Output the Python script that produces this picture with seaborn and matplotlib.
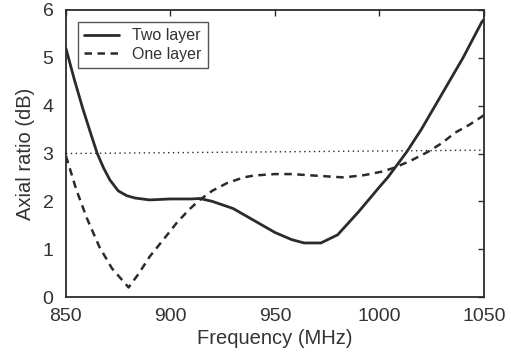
import matplotlib
matplotlib.use("Agg")
import matplotlib.pyplot as plt
import seaborn as sns
import pandas as pd

sns.set_theme(style="white")
plt.rcParams['font.family'] = ['Liberation Sans', 'DejaVu Sans']

two_freq = [850, 854, 858, 862, 865, 868, 871, 875, 879, 883, 890, 900, 910, 914, 920, 930, 940, 950, 958, 964, 972, 980, 990, 1000, 1004, 1013, 1020, 1030, 1040, 1049, 1050]
two_ar   = [5.2, 4.55, 3.95, 3.4, 3.0, 2.7, 2.45, 2.22, 2.12, 2.07, 2.03, 2.05, 2.05, 2.06, 2.0, 1.85, 1.6, 1.35, 1.2, 1.13, 1.13, 1.3, 1.78, 2.3, 2.5, 3.03, 3.5, 4.25, 5.0, 5.75, 5.8]

one_freq = [850, 855, 860, 866, 872, 880, 885, 890, 897, 903, 909, 914, 920, 927, 935, 940, 950, 958, 965, 972, 983, 993, 1001, 1007, 1015, 1023, 1030, 1036, 1043, 1050]
one_ar   = [2.95, 2.24, 1.65, 1.05, 0.6, 0.2, 0.5, 0.84, 1.22, 1.55, 1.83, 2.03, 2.22, 2.38, 2.5, 2.54, 2.57, 2.57, 2.55, 2.53, 2.5, 2.55, 2.62, 2.7, 2.85, 3.03, 3.22, 3.43, 3.6, 3.8]

ref_freq = [850, 1050]
ref_ar = [3.0, 3.07]

xticks = [850, 900, 950, 1000, 1050]
yticks = [0, 1, 2, 3, 4, 5, 6]

fig = plt.figure(figsize=(5.11, 3.57), dpi=100)
ax = fig.add_axes([0.129, 0.168, 0.818, 0.804])

col = '#2b2b2b'
sns.lineplot(x=two_freq, y=two_ar, ax=ax, color=col, lw=2.0, label='Two layer')
sns.lineplot(x=one_freq, y=one_ar, ax=ax, color=col, lw=1.8, linestyle=(0, (3, 2.2)), label='One layer')
sns.lineplot(x=ref_freq, y=ref_ar, ax=ax, color=col, lw=1.0, linestyle=(0, (1, 2.5)))

ax.set_xlim(850, 1050)
ax.set_ylim(0, 6)
ax.set_xticks(xticks)
ax.set_yticks(yticks)
ax.tick_params(direction='in', length=4, width=1, colors=col, labelsize=14,
               top=True, right=True, labelcolor='#333333')
ax.tick_params(axis='x', pad=8)
ax.tick_params(axis='y', pad=9)
ax.set_xlabel('Frequency (MHz)', fontsize=14.5, color='#333333', labelpad=3)
ax.set_ylabel('Axial ratio (dB)', fontsize=14.5, color='#333333', labelpad=5)
for s in ax.spines.values():
    s.set_color(col)
    s.set_linewidth(1.3)

leg = ax.legend(loc='upper left', fontsize=11.5, frameon=True, fancybox=False,
                edgecolor=col, handlelength=2.2, borderpad=0.4, labelspacing=0.2,
                borderaxespad=0.75)
leg.get_frame().set_linewidth(1.0)
for t in leg.get_texts():
    t.set_color('#333333')

fig.savefig('out.png', dpi=100)
